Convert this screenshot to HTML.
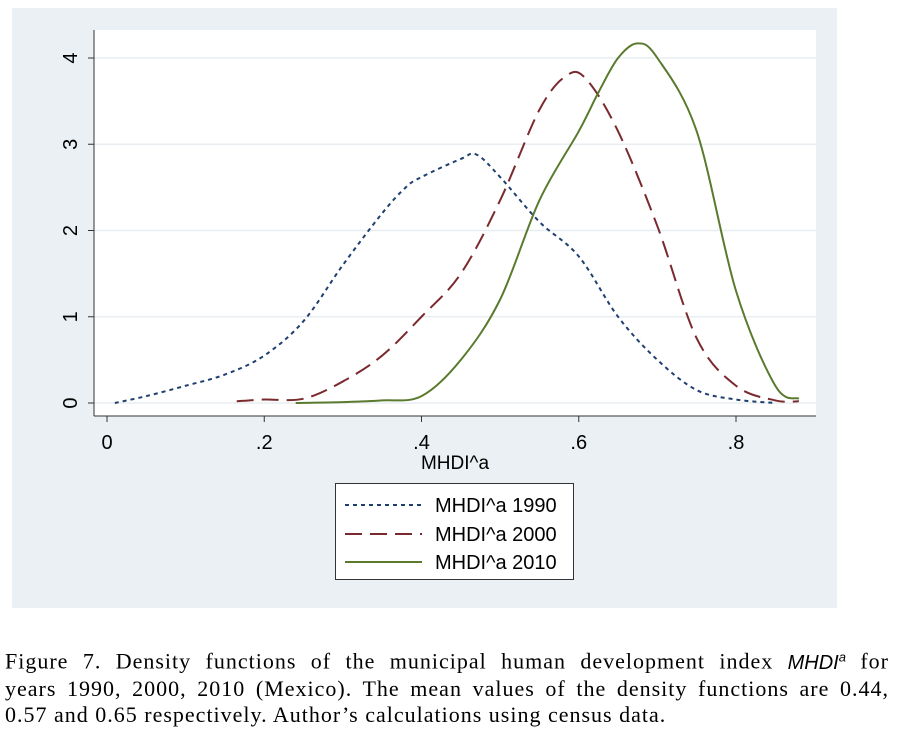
<!DOCTYPE html>
<html><head><meta charset="utf-8"><style>
html,body{margin:0;padding:0;background:#fff;width:898px;height:733px;overflow:hidden}
#cap{position:absolute;left:5px;top:644px;width:884px;font-family:"Liberation Serif",serif;font-size:22px;letter-spacing:1px;line-height:26px;color:#000}
#cap .j{display:block;text-align:justify;text-align-last:justify;white-space:nowrap}
#cap .l{display:block;white-space:nowrap}
#cap i{font-family:"Liberation Sans",sans-serif;font-size:20px;letter-spacing:0}
</style></head><body>
<svg id="chart" width="898" height="640" style="position:absolute;left:0;top:0" font-family="Liberation Sans, sans-serif">
<rect x="12" y="8" width="825" height="600" fill="#eaf0f3"/>
<rect x="94" y="30" width="722" height="386" fill="#fff"/>
<g id="grid"></g><g id="axes"></g><g id="series"></g>
<text x="455" y="469" font-size="19" text-anchor="middle">MHDI^a</text>
<g>
<rect x="335.5" y="483.5" width="238" height="96" fill="#fff" stroke="#333" stroke-width="1"/>
<line x1="345" y1="505" x2="422" y2="505" stroke="#1f3f6e" stroke-width="2" stroke-dasharray="4,4"/>
<text x="435" y="512" font-size="20">MHDI^a 1990</text>
<line x1="345" y1="534" x2="422" y2="534" stroke="#7a2a2e" stroke-width="2" stroke-dasharray="17,8"/>
<text x="435" y="541" font-size="20">MHDI^a 2000</text>
<line x1="345" y1="562" x2="422" y2="562" stroke="#5a7a2e" stroke-width="2"/>
<text x="435" y="569" font-size="20">MHDI^a 2010</text>
</g>
</svg>
<div id="cap"><span class="j">Figure 7. Density functions of the municipal human development index <i>MHDI<sup style="font-size:13px">a</sup></i> for</span><span class="j">years 1990, 2000, 2010 (Mexico). The mean values of the density functions are 0.44,</span><span class="l">0.57 and 0.65 respectively. Author’s calculations using census data.</span></div>
<script>
const xTicks=[0,0.2,0.4,0.6,0.8];
const xTickLabels=["0",".2",".4",".6",".8"];
const yTicks=[0,1,2,3,4];
const yTickLabels=["0","1","2","3","4"];
const x1990=[0.01,0.05,0.1,0.15,0.2,0.25,0.3,0.35,0.38,0.4,0.45,0.47,0.5,0.55,0.6,0.65,0.7,0.75,0.8,0.85];
const y1990=[0,0.08,0.2,0.33,0.55,0.95,1.6,2.2,2.5,2.62,2.83,2.88,2.62,2.1,1.7,1.0,0.5,0.15,0.04,0.0];
const x2000=[0.165,0.2,0.25,0.3,0.35,0.4,0.45,0.5,0.55,0.585,0.61,0.65,0.7,0.75,0.8,0.85,0.88];
const y2000=[0.02,0.04,0.05,0.25,0.55,1.0,1.5,2.35,3.4,3.8,3.75,3.15,2.05,0.75,0.2,0.03,0.02];
const x2010=[0.24,0.3,0.35,0.4,0.45,0.5,0.55,0.6,0.625,0.65,0.675,0.7,0.75,0.8,0.85,0.88];
const y2010=[0,0.01,0.03,0.08,0.5,1.2,2.35,3.15,3.6,4.0,4.17,4.0,3.15,1.3,0.2,0.05];
const NS="http://www.w3.org/2000/svg";
function sx(v){return 107+v*786.25;}
function sy(v){return 403-v*86.25;}
function mk(tag,attrs,parent){const e=document.createElementNS(NS,tag);for(const k in attrs)e.setAttribute(k,attrs[k]);parent.appendChild(e);return e;}
const grid=document.getElementById('grid'),axes=document.getElementById('axes'),series=document.getElementById('series');
yTicks.forEach((t,i)=>{
 const g=mk('line',{x1:94,x2:816,y1:sy(t),y2:sy(t),stroke:'#e8eef2','stroke-width':1.5},grid);
 
 
 const tk=mk('line',{x1:88,x2:94,y1:sy(t),y2:sy(t),stroke:'#333'},axes);
 
 
 const tx=mk('text',{x:0,y:0,'font-size':20,'text-anchor':'middle',transform:`translate(77,${sy(t)}) rotate(-90)`},axes);
 tx.textContent=yTickLabels[i];
 
 
});
xTicks.forEach((t,i)=>{
 const tk=mk('line',{x1:sx(t),x2:sx(t),y1:416,y2:422,stroke:'#333'},axes);
 
 
 const tx=mk('text',{x:sx(t),y:449,'font-size':20,'text-anchor':'middle'},axes);
 tx.textContent=xTickLabels[i];
 
 
});
const ya=mk('line',{x1:94,x2:94,y1:30,y2:416,stroke:'#333'},axes);


const xa=mk('line',{x1:94,x2:816,y1:416,y2:416,stroke:'#333'},axes);


function path(xs,ys){
 const p=xs.map((x,i)=>[sx(x),sy(ys[i])]);
 let d=`M${p[0][0]},${p[0][1]}`;
 for(let i=0;i<p.length-1;i++){
  const p0=p[i-1]||p[i],p1=p[i],p2=p[i+1],p3=p[i+2]||p2;
  const c1x=p1[0]+(p2[0]-p0[0])/6,c1y=p1[1]+(p2[1]-p0[1])/6;
  const c2x=p2[0]-(p3[0]-p1[0])/6,c2y=p2[1]-(p3[1]-p1[1])/6;
  d+=` C${c1x},${c1y} ${c2x},${c2y} ${p2[0]},${p2[1]}`;
 }
 return d;
}
const l1=mk('path',{d:path(x1990,y1990),fill:'none',stroke:'#1f3f6e','stroke-width':2,'stroke-dasharray':'4,4'},series);


const l2=mk('path',{d:path(x2000,y2000),fill:'none',stroke:'#7a2a2e','stroke-width':2,'stroke-dasharray':'17,8'},series);


const l3=mk('path',{d:path(x2010,y2010),fill:'none',stroke:'#5a7a2e','stroke-width':2},series);


</script>
</body></html>
